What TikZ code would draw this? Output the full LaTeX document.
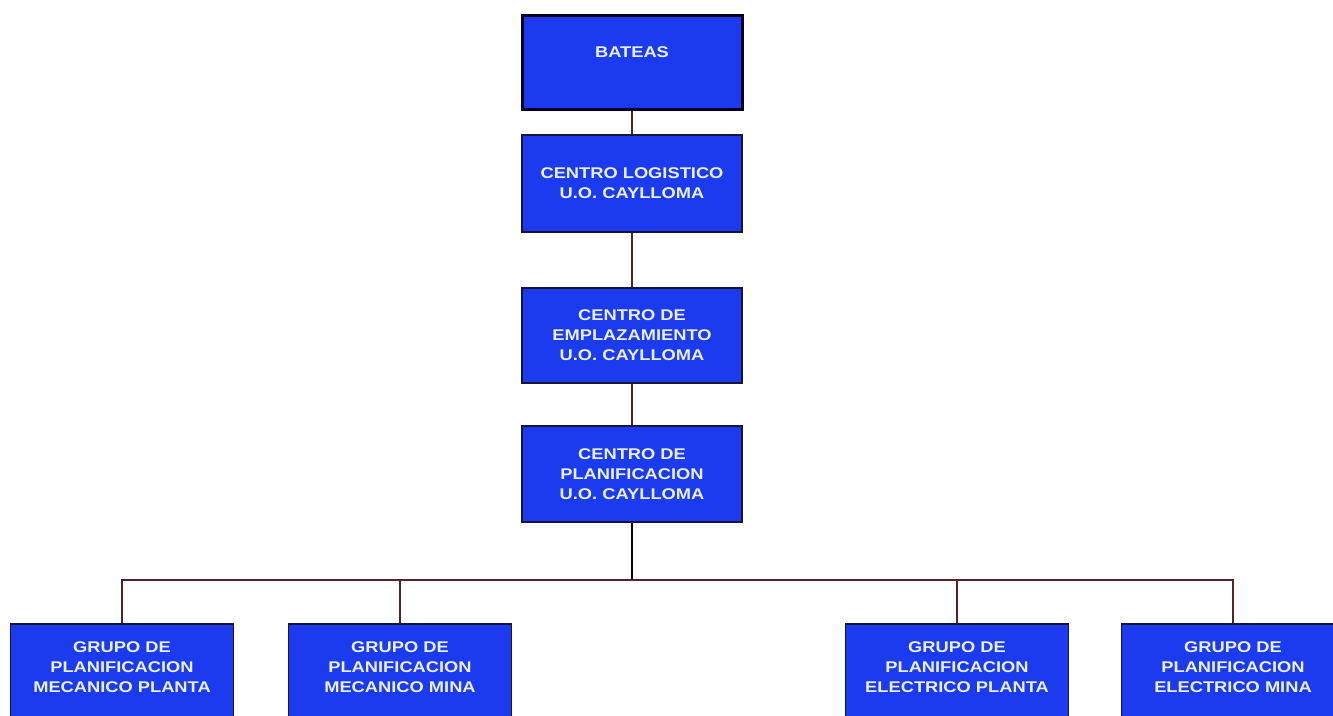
\documentclass[tikz,border=0pt]{standalone}
\usepackage{fontspec}
\newfontfamily\boxfont[FakeStretch=1.18]{Liberation Sans}
\definecolor{boxblue}{RGB}{28,58,238}
\definecolor{boxtext}{RGB}{232,240,255}
\definecolor{boxedge}{RGB}{22,22,60}
\definecolor{linkcol}{RGB}{80,36,40}
\begin{document}
\begin{tikzpicture}[x=1pt,y=-1pt,
  unit/.style={draw=boxedge,line width=1.2pt,fill=boxblue,text=boxtext,
    minimum width=220pt,minimum height=96pt,inner sep=0pt,align=center,
    font=\boxfont\bfseries\fontsize{15.5}{20}\selectfont},
  rootunit/.style={unit,line width=3pt,draw=black!85!blue,minimum height=94pt},
  grupo/.style={unit,minimum width=223pt,minimum height=98pt,text depth=12pt},
  link/.style={draw=linkcol,line width=1.4pt},
  trunk/.style={draw=black,line width=2.4pt}]
  \useasboundingbox (0,0) rectangle (1333,715);
  \clip (0,0) rectangle (1333,715);
  \fill[white] (0,0) rectangle (1333,715);

  % chain of centres
  \node[rootunit] (bateas) at (632,62.5) {BATEAS\\\mbox{}};
  \node[unit,minimum height=97pt] (logistico) at (632,183.5) {CENTRO LOGISTICO\\U.O. CAYLLOMA};
  \node[unit,minimum height=95pt] (emplaz) at (632,335.5) {CENTRO DE\\EMPLAZAMIENTO\\U.O. CAYLLOMA};
  \node[unit] (planif) at (632,474) {CENTRO DE\\PLANIFICACION\\U.O. CAYLLOMA};

  % planning groups (their lower edge runs off the page)
  \node[grupo] (g1) at (122,673) {GRUPO DE\\PLANIFICACION\\MECANICO PLANTA};
  \node[grupo] (g2) at (400,673) {GRUPO DE\\PLANIFICACION\\MECANICO MINA};
  \node[grupo] (g3) at (957,673) {GRUPO DE\\PLANIFICACION\\ELECTRICO PLANTA};
  \node[grupo] (g4) at (1233,673) {GRUPO DE\\PLANIFICACION\\ELECTRICO MINA};

  % connectors
  \coordinate (bus) at (632,580);
  \draw[link] (bateas.south) -- (logistico.north);
  \draw[link] (logistico.south) -- (emplaz.north);
  \draw[link] (emplaz.south) -- (planif.north);
  \draw[link] (g1.north) |- (bus) -| (g4.north);
  \draw[link] (g2.north) -- (g2.north |- bus);
  \draw[link] (g3.north) -- (g3.north |- bus);
  \draw[trunk] (planif.south) -- (bus);
\end{tikzpicture}
\end{document}
